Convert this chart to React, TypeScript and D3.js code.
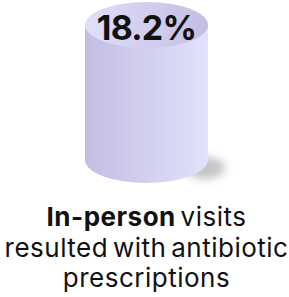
import React from "react";
import * as d3 from "d3";

const values = [18.2];
const boldLabel = ["In-person"];
const labelLines = ["visits", "resulted with antibiotic", "prescriptions"];

const W = 289;
const H = 297;

export default function App() {
  const fmt = d3.format(".1f");
  const x = d3.scaleLinear().domain([0, 1]).range([85, 208]);
  const y = d3.scaleLinear().domain([0, 1]).range([25, 160]);
  const cx = (x(0) + x(1)) / 2;
  const rx = (x(1) - x(0)) / 2;
  const ry = 23;
  const d = `M${x(0)},${y(0)} L${x(0)},${y(1)} A${rx},${ry} 0 0 0 ${x(1)},${y(1)} L${x(1)},${y(0)} Z`;
  const font = "Inter, 'Noto Sans', sans-serif";
  const labelStyle = { fontFamily: font, fontSize: 26, fill: "#111", letterSpacing: 0.5, wordSpacing: -3 } as any;
  return (
    <svg width={W} height={H} style={{ position: "absolute", left: 0, top: 0 }}>
      <defs>
        <linearGradient id="body" x1="0" x2="1" y1="0" y2="0">
          <stop offset="0%" stopColor="#c3bde3" />
          <stop offset="100%" stopColor="#e1e2fb" />
        </linearGradient>
        <linearGradient id="top" x1="0" x2="1" y1="0" y2="0">
          <stop offset="0%" stopColor="#e0e0fa" />
          <stop offset="100%" stopColor="#c4bde2" />
        </linearGradient>
        <filter id="blur" x="-50%" y="-50%" width="200%" height="200%">
          <feGaussianBlur stdDeviation="4" />
        </filter>
      </defs>
      <ellipse cx={x(1) - 3} cy={y(1) + 8} rx={20} ry={11} fill="#8a8a8a" opacity={0.5} filter="url(#blur)" />
      <path d={d} fill="url(#body)" />
      <ellipse cx={cx} cy={y(0)} rx={rx} ry={ry} fill="url(#top)" />
      <text x={cx} y={40} textAnchor="middle" fontFamily={font} fontWeight={700} fontSize={34} fill="#111" letterSpacing={-0.8}>
        {fmt(values[0])}%
      </text>
      <text x={cx} y={226} textAnchor="middle" style={labelStyle}>
        <tspan fontWeight={700}>{boldLabel[0]}</tspan>
        <tspan> {labelLines[0]}</tspan>
      </text>
      <text x={cx} y={257} textAnchor="middle" style={labelStyle}>
        {labelLines[1]}
      </text>
      <text x={cx} y={287} textAnchor="middle" style={labelStyle}>
        {labelLines[2]}
      </text>
    </svg>
  );
}
